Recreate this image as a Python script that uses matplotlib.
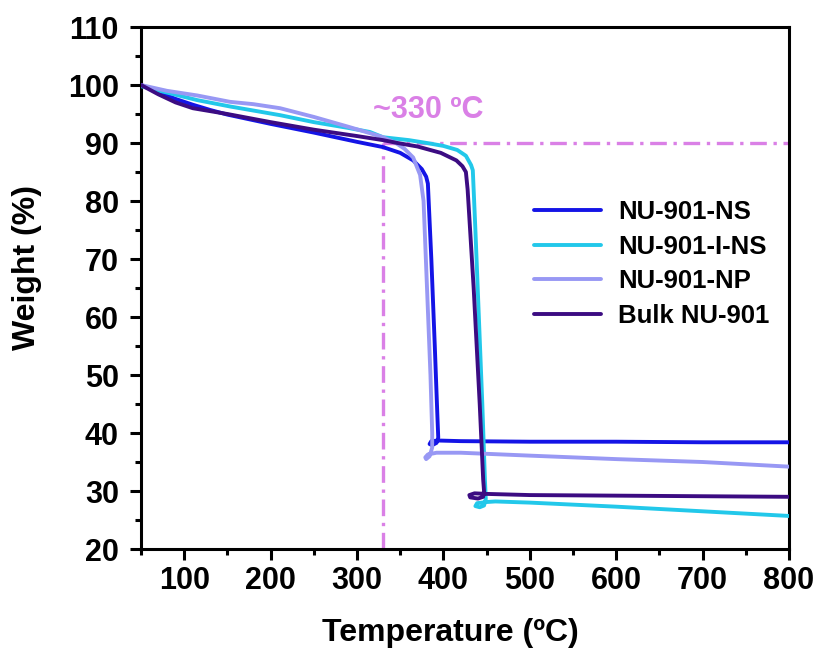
import matplotlib
matplotlib.use("Agg")
import matplotlib.pyplot as plt
from matplotlib.ticker import MultipleLocator

plt.rcParams['font.family'] = ['Liberation Sans', 'DejaVu Sans']
plt.rcParams['font.weight'] = 'bold'

# ---------------- data ----------------
ns_T = [50, 70, 90, 110, 130, 150, 200, 250, 300, 330, 350, 365, 375, 380, 382,
        386, 390, 393, 394, 392, 387, 384, 386, 395, 420, 500, 600, 700, 800]
ns_W = [100, 98.8, 97.6, 96.6, 95.7, 94.9, 93.3, 91.8, 90.2, 89.3, 88.3, 87.0, 85.5, 84.2, 83.0,
        70, 55, 43, 39.2, 38.3, 37.9, 38.1, 38.6, 38.7, 38.6, 38.5, 38.5, 38.4, 38.4]

ins_T = [50, 80, 115, 153, 211, 250, 290, 315, 330, 360, 381, 400, 416, 426, 432, 434,
         437, 441, 445, 448, 449, 447, 442, 437, 439, 450, 460, 500, 600, 700, 800]
ins_W = [99.8, 98.7, 97.4, 96.3, 94.8, 93.6, 92.6, 91.9, 91.0, 90.5, 90.0, 89.5, 88.8, 87.8, 86.2, 85.3,
         75, 60, 45, 32, 28.6, 27.5, 27.2, 27.4, 27.9, 28.1, 28.2, 28.0, 27.3, 26.5, 25.7]

np_T = [50, 80, 115, 153, 180, 211, 250, 290, 315, 330, 345, 355, 365, 373,
        377, 381, 385, 387, 387, 384, 380, 379, 382, 392, 420, 500, 600, 700, 800]
np_W = [100, 99.0, 98.2, 97.1, 96.7, 96.0, 94.5, 92.8, 91.7, 91.0, 90.0, 89.0, 87.5, 84.5,
        80, 65, 50, 40, 37.5, 36.0, 35.5, 35.8, 36.3, 36.6, 36.6, 36.1, 35.5, 35.0, 34.2]

bulk_T = [50, 70, 90, 110, 130, 150, 200, 250, 300, 330, 347, 370, 397, 415, 422, 426,
          428, 435, 442, 446, 447, 446, 440, 431, 430, 436, 450, 500, 600, 700, 800]
bulk_W = [100, 98.4, 97.0, 96.0, 95.5, 95.0, 93.6, 92.3, 91.2, 90.5, 90.0, 89.4, 88.3, 87.0, 86.0, 85.0,
          82, 65, 45, 32, 30.0, 29.0, 28.7, 28.9, 29.3, 29.6, 29.5, 29.3, 29.2, 29.1, 29.0]

labels = ['NU-901-NS', 'NU-901-I-NS', 'NU-901-NP', 'Bulk NU-901']
colors = ['#1414E6', '#22C8EA', '#9898F4', '#3C0C82']

mark_T = 330
mark_W = 90
mark_text = '~330 \u00baC'

x_ticks = [100, 200, 300, 400, 500, 600, 700, 800]
y_ticks = [20, 30, 40, 50, 60, 70, 80, 90, 100, 110]

# ---------------- figure ----------------
fig = plt.figure(figsize=(8.19, 6.56), dpi=100)
ax = fig.add_axes([0.1722, 0.1631, 0.7912, 0.7957])

series = [(ns_T, ns_W), (ins_T, ins_W), (np_T, np_W), (bulk_T, bulk_W)]
handles = [None] * 4
for i in [2, 3, 1, 0]:
    T, W = series[i]
    h, = ax.plot(T, W, color=colors[i], lw=2.8, label=labels[i],
                 solid_joinstyle='round', solid_capstyle='round', zorder=3 + i)
    handles[i] = h

mark_color = '#DA80E6'
dash = (0, (5, 2, 1, 2))
ax.plot([mark_T, 800], [mark_W, mark_W], color=mark_color, lw=2.4, linestyle=dash, zorder=2)
ax.plot([mark_T, mark_T], [20, mark_W], color=mark_color, lw=2.4, linestyle=dash, zorder=2)
ax.text(318, 94.3, mark_text, color=mark_color, fontsize=22, fontweight='bold',
        ha='left', va='baseline')

ax.set_xlim(50, 800)
ax.set_ylim(20, 110)
ax.set_xticks(x_ticks)
ax.set_yticks(y_ticks)
ax.xaxis.set_minor_locator(MultipleLocator(50))
ax.yaxis.set_minor_locator(MultipleLocator(5))

for s in ax.spines.values():
    s.set_linewidth(2.2)
ax.tick_params(axis='both', which='major', direction='out', length=8, width=2.2,
               labelsize=22, top=False, right=False)
ax.tick_params(axis='both', which='minor', direction='out', length=4.5, width=2.2,
               top=False, right=False)
ax.tick_params(axis='x', which='major', pad=4)
ax.tick_params(axis='y', which='major', pad=8)
for lab in ax.get_xticklabels() + ax.get_yticklabels():
    lab.set_fontweight('bold')

ax.set_xlabel('Temperature (\u00baC)', fontsize=23, fontweight='bold')
ax.set_ylabel('Weight (%)', fontsize=23, fontweight='bold')
ax.xaxis.set_label_coords(0.478, -0.132)
ax.yaxis.set_label_coords(-0.153, 0.54)

leg = ax.legend(handles=handles, labels=labels, loc='center left',
                bbox_to_anchor=(0.607, 0.546), frameon=False, borderpad=0,
                borderaxespad=0, fontsize=18.5, handlelength=2.6,
                handletextpad=0.65, labelspacing=0.42)
for t in leg.get_texts():
    t.set_fontweight('bold')
for l in leg.get_lines():
    l.set_linewidth(2.8)

fig.savefig('out.png', dpi=100)
